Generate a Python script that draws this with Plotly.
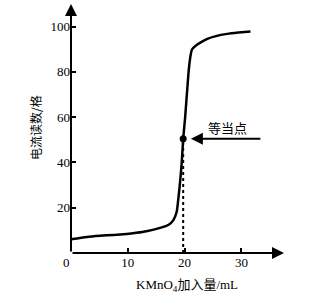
import plotly.graph_objects as go

# Data
vol = [0, 2.8, 5.1, 7.5, 9.8, 11.5, 13.3, 15.7, 17.2, 18.0, 18.6, 18.9, 19.2, 19.5, 19.75,
       20.1, 20.7, 21.0, 21.3, 22.0, 23.0, 24.0, 25.5, 27.5, 29.5, 31.6]
current = [6.1, 7.1, 7.6, 8.0, 8.4, 8.9, 9.6, 11.1, 12.5, 14.4, 18.1, 24.0, 31.3, 40.0, 50.5,
           60.0, 80.0, 86.5, 89.9, 91.7, 93.3, 94.6, 95.8, 96.8, 97.4, 97.9]
eq_x = [19.75]
eq_y = [50.5]
x_ticks = [0, 10, 20, 30]
x_tick_text = ["0\u00a0\u00a0\u00a0", "10", "20", "30"]
y_ticks = [20, 40, 60, 80, 100]
eq_label = "等当点"
x_title = "KMnO<sub>4</sub>加入量/mL"
y_title = "电流读数/格"

X_MAX = 37.5
Y_MAX = 110

SERIF = "Liberation Serif, Times New Roman, serif"
CJK = "Noto Sans CJK SC, sans-serif"

fig = go.Figure()

# dotted vertical line at equivalence point
fig.add_trace(go.Scatter(x=[eq_x[0], eq_x[0]], y=[0, eq_y[0]], mode="lines",
                         line=dict(color="black", width=2, dash="dot"),
                         hoverinfo="skip", showlegend=False))

fig.add_trace(go.Scatter(x=vol, y=current, mode="lines",
                         line=dict(color="black", width=2.5, shape="spline", smoothing=0.6),
                         showlegend=False))

fig.add_trace(go.Scatter(x=eq_x, y=eq_y, mode="markers",
                         marker=dict(color="black", size=7),
                         showlegend=False))

W, H = 329, 295
L, R, T, B = 71, 45, 4, 42
pw, ph = W - L - R, H - T - B


def px_to_paper(px, py):
    return (px - L) / pw, 1 - (py - T) / ph


xt_x, xt_y = px_to_paper(187, 285)
yt_x, yt_y = px_to_paper(35, 128)

annotations = [
    # axis arrows
    dict(x=0, y=Y_MAX, ax=0, ay=0, xref="x", yref="y", axref="x", ayref="y",
         showarrow=True, arrowhead=2, arrowsize=1.2, arrowwidth=2, arrowcolor="black", text=""),
    dict(x=X_MAX, y=0, ax=0, ay=0, xref="x", yref="y", axref="x", ayref="y",
         showarrow=True, arrowhead=2, arrowsize=1.2, arrowwidth=2, arrowcolor="black", text=""),
    # equivalence point arrow
    dict(x=eq_x[0] + 1.35, y=eq_y[0], ax=33.6, ay=eq_y[0], xref="x", yref="y", axref="x", ayref="y",
         showarrow=True, arrowhead=2, arrowsize=1.2, arrowwidth=2, arrowcolor="black", text=""),
    dict(x=27.6, y=eq_y[0] + 5, xref="x", yref="y", text=eq_label, showarrow=False,
         xanchor="center", yanchor="middle",
         font=dict(family=CJK, size=13, color="black")),
    # axis titles
    dict(x=xt_x, y=xt_y, xref="paper", yref="paper", text=x_title, showarrow=False,
         xanchor="center", yanchor="middle",
         font=dict(family=SERIF + ", " + CJK, size=13, color="black")),
    dict(x=yt_x, y=yt_y, xref="paper", yref="paper", text=y_title, showarrow=False,
         textangle=-90, xanchor="center", yanchor="middle",
         font=dict(family=CJK, size=12, color="black")),
]

fig.update_layout(
    width=W, height=H,
    margin=dict(l=L, r=R, t=T, b=B, pad=0, autoexpand=False),
    paper_bgcolor="white", plot_bgcolor="white",
    annotations=annotations,
    xaxis=dict(range=[0, X_MAX], tickvals=x_ticks, ticktext=x_tick_text,
               ticks="inside", ticklen=5, tickwidth=1.5, tickcolor="black",
               showgrid=False, zeroline=False, showline=False, automargin=False,
               tickfont=dict(family=SERIF, size=13, color="black")),
    yaxis=dict(range=[0, Y_MAX], tickvals=y_ticks, ticktext=[str(v) for v in y_ticks],
               ticks="inside", ticklen=5, tickwidth=1.5, tickcolor="black",
               showgrid=False, zeroline=False, showline=False, automargin=False,
               tickfont=dict(family=SERIF, size=13, color="black")),
)

fig.write_html("out.html", config={"displayModeBar": False},
               post_script="document.body.style.margin='0';")
